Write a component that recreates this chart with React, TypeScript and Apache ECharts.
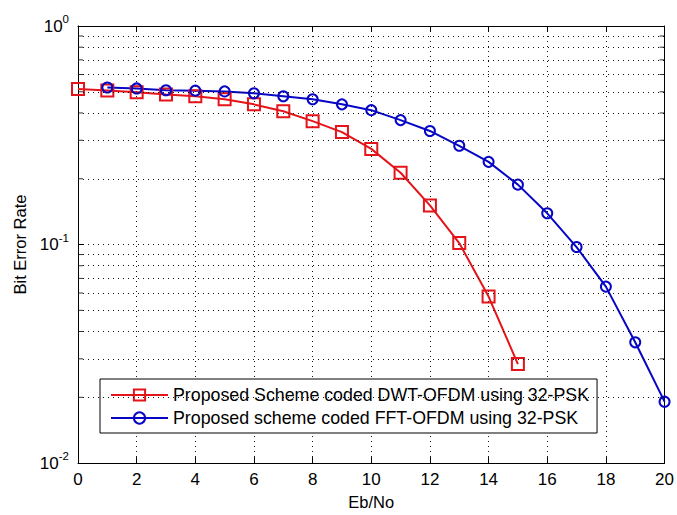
import React, { useEffect, useRef } from "react";
import * as echarts from "echarts";

const ebNoDWT = [0, 1, 2, 3, 4, 5, 6, 7, 8, 9, 10, 11, 12, 13, 14, 15];
const berDWT = [0.515, 0.507, 0.497, 0.486, 0.477, 0.462, 0.438, 0.407, 0.367, 0.327, 0.274, 0.213, 0.151, 0.1016, 0.0578, 0.0284];
const ebNoFFT = [1, 2, 3, 4, 5, 6, 7, 8, 9, 10, 11, 12, 13, 14, 15, 16, 17, 18, 19, 20];
const berFFT = [0.523, 0.518, 0.508, 0.506, 0.502, 0.492, 0.477, 0.462, 0.438, 0.412, 0.371, 0.331, 0.283, 0.239, 0.188, 0.139, 0.0974, 0.0642, 0.0357, 0.0191];
const yMinor = [0.02, 0.03, 0.04, 0.05, 0.06, 0.07, 0.08, 0.09, 0.2, 0.3, 0.4, 0.5, 0.6, 0.7, 0.8, 0.9];
const nameDWT = "Proposed Scheme coded DWT-OFDM using 32-PSK";
const nameFFT = "Proposed scheme coded FFT-OFDM using 32-PSK";

const FONT = "'Liberation Sans', Arial, Helvetica, sans-serif";
const RED = "#e3141a";
const BLUE = "#0606c4";
const GRID_DASH = [1, 4];

export default function App() {
  const ref = useRef<HTMLDivElement>(null);
  useEffect(() => {
    if (!ref.current) return;
    const chart = echarts.init(ref.current, undefined, { renderer: "svg" });
    const dotted = { color: "#111", width: 1, type: GRID_DASH };
    chart.setOption({
      animation: false,
      backgroundColor: "#fff",
      textStyle: { fontFamily: FONT, color: "#000" },
      grid: { left: 78, top: 26, right: 5, bottom: 47 },
      legend: {
        orient: "vertical",
        left: 100,
        top: 379,
        width: 497,
        data: [nameDWT, nameFFT],
        itemWidth: 57,
        itemHeight: 14,
        itemGap: 3,
        padding: [6, 8, 5, 10],
        backgroundColor: "#fff",
        borderColor: "#000",
        borderWidth: 1,
        borderRadius: 0,
        textStyle: { fontFamily: FONT, fontSize: 17.8, color: "#000", lineHeight: 20 },
      },
      xAxis: [
        {
          type: "value",
          min: 0,
          max: 20,
          interval: 2,
          name: "Eb/No",
          nameLocation: "middle",
          nameGap: 27,
          nameTextStyle: { fontFamily: FONT, fontSize: 16.5, color: "#000" },
          axisLine: { show: true, lineStyle: { color: "#000", width: 1 } },
          axisTick: { show: true, inside: true, length: 6, lineStyle: { color: "#000" } },
          axisLabel: { fontFamily: FONT, fontSize: 17, color: "#000", margin: 8 },
          splitLine: { show: true, lineStyle: dotted },
        },
        {
          type: "value",
          position: "top",
          min: 0,
          max: 20,
          interval: 2,
          axisLine: { show: true, onZero: false, lineStyle: { color: "#000", width: 1 } },
          axisTick: { show: true, inside: true, length: 6, lineStyle: { color: "#000" } },
          axisLabel: { show: false },
          splitLine: { show: false },
        },
      ],
      yAxis: [
        {
          type: "log",
          logBase: 10,
          min: 0.01,
          max: 1,
          name: "Bit Error Rate",
          nameLocation: "middle",
          nameGap: 46,
          nameTextStyle: { fontFamily: FONT, fontSize: 16.5, color: "#000" },
          axisLine: { show: true, lineStyle: { color: "#000", width: 1 } },
          axisTick: { show: true, inside: true, length: 6, lineStyle: { color: "#000" } },
          axisLabel: {
            margin: 9,
            formatter: (v: number) => `{b|10}{s|${Math.round(Math.log10(v))}}`,
            rich: {
              b: { fontFamily: FONT, fontSize: 17, color: "#000", lineHeight: 26 },
              s: { fontFamily: FONT, fontSize: 11.5, color: "#000", verticalAlign: "top", lineHeight: 11 },
            },
          },
          splitLine: { show: true, lineStyle: dotted },
        },
        {
          type: "log",
          logBase: 10,
          min: 0.01,
          max: 1,
          position: "right",
          axisLine: { show: true, onZero: false, lineStyle: { color: "#000", width: 1 } },
          axisTick: { show: true, inside: true, length: 6, lineStyle: { color: "#000" } },
          axisLabel: { show: false },
          splitLine: { show: false },
        },
      ],
      series: [
        {
          name: "minorLeft",
          type: "scatter",
          silent: true,
          z: 1,
          symbol: "rect",
          symbolSize: [5, 1],
          symbolOffset: [2.5, 0],
          itemStyle: { color: "#000" },
          data: yMinor.map((v) => [0, v]),
          markLine: {
            silent: true,
            symbol: "none",
            label: { show: false },
            lineStyle: dotted,
            data: yMinor.map((v) => ({ yAxis: v })),
          },
        },
        {
          name: "minorRight",
          type: "scatter",
          silent: true,
          z: 1,
          symbol: "rect",
          symbolSize: [5, 1],
          symbolOffset: [-2.5, 0],
          itemStyle: { color: "#000" },
          data: yMinor.map((v) => [20, v]),
        },
        {
          name: nameDWT,
          type: "line",
          z: 3,
          symbol: "rect",
          symbolSize: 12,
          showAllSymbol: true,
          lineStyle: { color: RED, width: 2 },
          itemStyle: { color: "rgba(255,255,255,0)", borderColor: RED, borderWidth: 2 },
          data: ebNoDWT.map((x, i) => [x, berDWT[i]]),
        },
        {
          name: nameFFT,
          type: "line",
          z: 3,
          symbol: "circle",
          symbolSize: 10,
          showAllSymbol: true,
          lineStyle: { color: BLUE, width: 2 },
          itemStyle: { color: "rgba(255,255,255,0)", borderColor: BLUE, borderWidth: 2 },
          data: ebNoFFT.map((x, i) => [x, berFFT[i]]),
        },
      ],
    });
    return () => chart.dispose();
  }, []);
  return <div ref={ref} style={{ width: 677, height: 515, position: "fixed", left: 0, top: 0 }} />;
}
